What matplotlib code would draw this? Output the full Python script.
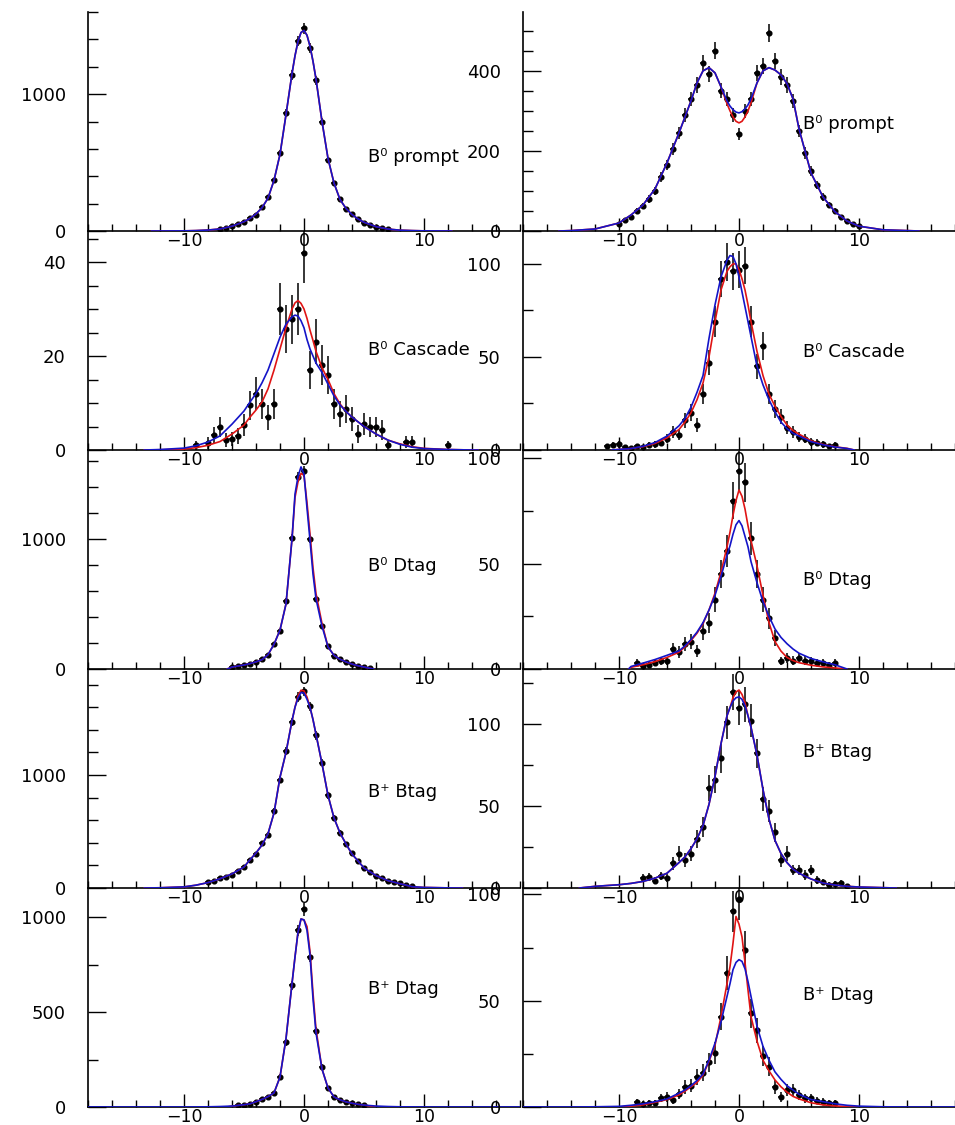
import numpy as np
import matplotlib.pyplot as plt
from matplotlib.ticker import MultipleLocator

# ======================
# Fit curves, tabulated on a common x grid (ps)
# ======================
CURVE_X = [-14, -12, -10, -9, -8, -7, -6, -5, -4.5, -4, -3.5, -3, -2.5, -2, -1.5, -1,
           -0.75, -0.5, -0.25, 0, 0.25, 0.5, 0.75, 1, 1.5, 2, 2.5, 3, 3.5, 4,
           4.5, 5, 6, 7, 8, 9, 10, 12, 14]
BIN_W = 0.5

# ----- B0 prompt (left) -----
b0_prompt_l_x0 = -7
b0_prompt_l_n = [14, 25, 36, 50, 66, 95, 120, 175, 245, 370, 570, 860, 1140, 1390, 1480,
                 1340, 1100, 800, 520, 350, 235, 160, 125, 85, 62, 45, 30, 20, 13]
b0_prompt_l_blue = [0, 0.3, 1, 3, 7, 15, 35, 68, 92, 125, 170, 240, 370, 560, 850, 1150, 1280,
                    1385, 1450, 1465, 1430, 1350, 1240, 1110, 800, 530, 350, 230, 165, 120,
                    88, 64, 32, 14, 6, 3, 1, 0.3, 0]
b0_prompt_l_red = b0_prompt_l_blue

# ----- B0 prompt (right) -----
b0_prompt_r_x0 = -10
b0_prompt_r_n = [18, 28, 35, 50, 62, 80, 100, 135, 165, 205, 245, 290, 330, 365, 420, 392,
                 450, 350, 330, 290, 242, 300, 330, 395, 412, 495, 425, 385, 365, 325, 250,
                 195, 150, 115, 85, 65, 50, 35, 25, 18, 12]
b0_prompt_r_blue = [1, 5, 20, 40, 65, 105, 170, 245, 285, 325, 370, 400, 408, 395, 360, 325,
                    312, 303, 297, 295, 298, 305, 315, 330, 370, 400, 408, 402, 390, 368,
                    330, 255, 145, 85, 48, 25, 12, 3, 1]
b0_prompt_r_red = [1, 5, 20, 40, 65, 105, 170, 245, 285, 325, 370, 400, 408, 395, 360, 318,
                   300, 285, 274, 270, 274, 285, 300, 320, 370, 400, 408, 402, 390, 368,
                   330, 255, 145, 85, 48, 25, 12, 3, 1]

# ----- B0 cascade (left) -----
b0_casc_l_x0 = -9
b0_casc_l_n = [1, 0, 1.5, 3.2, 4.9, 2.1, 2.3, 3, 5.3, 9.5, 12, 9.8, 7, 9.8, 30, 25.7, 27.8,
               30, 42, 17, 23, 18, 16, 9.8, 7.7, 8.7, 6.6, 3.4, 5.5, 4.9,
               4.9, 4.3, 1, 0, 0, 1.7, 1.7, 0, 0, 0, 0, 0, 1]
b0_casc_l_blue = [0, 0.1, 0.4, 0.9, 1.7, 3.0, 5.5, 8.3, 10.2, 12, 14.3, 17, 20.5, 24, 26.8,
                  28.3, 28.7, 28.5, 27.5, 26, 23.5, 21.5, 20, 18.5, 16.5, 14, 11.5, 9.6, 8.2,
                  7, 6, 5, 3.4, 2.1, 1.2, 0.6, 0.3, 0.1, 0]
b0_casc_l_red = [0, 0.05, 0.2, 0.5, 1.0, 1.8, 3.4, 5.3, 7, 8.5, 10.2, 13, 17, 21.5, 26, 30,
                 31.3, 31.8, 31.2, 30, 28, 25.5, 23.3, 21, 17.5, 15, 12, 9.8, 8.2, 7, 6, 5,
                 3.4, 2.1, 1.3, 0.7, 0.35, 0.1, 0]

# ----- B0 cascade (right) -----
b0_casc_r_x0 = -11
b0_casc_r_n = [2, 2.5, 3, 1.5, 1, 2, 1.5, 2.5, 3, 4, 6, 9.7, 8, 16, 20, 13.4, 30, 47, 69,
               92, 101, 96, 97, 99, 69, 45, 56, 30, 22, 18, 12, 9.7, 7, 6, 4.3, 4, 3, 2, 2.7]
b0_casc_r_blue = [0, 0, 0.3, 0.8, 2, 4, 7.5, 13, 17, 23, 31, 40, 60, 78, 93, 102, 104.5, 104,
                  100, 93, 85, 77, 69, 61, 45, 35, 27, 20.5, 15, 11.5, 9, 7.5, 4.5, 2.8, 1.6,
                  0.8, 0.4, 0, 0]
b0_casc_r_red = [0, 0, 0.3, 0.8, 1.8, 3.5, 6.5, 11, 15, 20, 27, 36, 50, 69, 86, 96, 98.5,
                 100, 100, 97, 92, 86, 78, 69, 53, 40, 30, 23.5, 18, 13.5, 10.5, 8.5, 5, 3,
                 1.7, 0.9, 0.4, 0, 0]

# ----- B0 Dtag (left) -----
b0_dtag_l_x0 = -6
b0_dtag_l_n = [14, 22, 30, 42, 55, 75, 105, 190, 290, 520, 1010, 1480, 1520, 1000, 540,
               330, 175, 100, 78, 52, 38, 25, 15, 10]
b0_dtag_l_blue = [0, 0, 0, 1, 3, 7, 15, 31, 42, 55, 72, 110, 190, 300, 500, 1000, 1346, 1480,
                  1555, 1500, 1238, 990, 730, 540, 330, 170, 105, 75, 55, 38, 25, 15, 6,
                  2, 1, 0, 0, 0, 0]
b0_dtag_l_red = [0, 0, 0, 1, 3, 7, 15, 31, 42, 55, 72, 110, 190, 300, 500, 1000, 1320, 1440,
                 1505, 1490, 1280, 1040, 780, 580, 350, 170, 105, 75, 55, 38, 25, 15, 6,
                 2, 1, 0, 0, 0, 0]

# ----- B0 Dtag (right) -----
b0_dtag_r_x0 = -8.5
b0_dtag_r_n = [2.9, 1.5, 2, 3, 3.8, 3.8, 9.5, 8, 11.9, 13, 8.6, 18, 22, 33, 45, 56, 80, 94,
               88.6, 62, 45, 33, 24, 14.8, 3.8, 5.2, 4, 5.2, 4, 3.8, 3, 2.9, 2, 2.9]
b0_dtag_r_blue = [0, 0, 0.5, 1.2, 2.8, 4.5, 6.5, 8.6, 11, 14, 17.5, 22, 28, 35, 44, 54, 58.5,
                  64, 68.5, 70.5, 68, 63, 58, 51, 41, 32, 25, 19, 15, 12, 9.5, 7.5, 5, 3.4,
                  2, 1, 0.5, 0, 0]
b0_dtag_r_red = [0, 0, 0.3, 0.8, 2, 3.5, 5.5, 8, 10.5, 13.5, 17, 21.5, 28, 36, 46, 58, 65,
                 73, 80, 85, 82, 76, 68, 61, 49, 35, 22, 13, 8.5, 5.5, 4, 3, 1.8, 1, 0.5,
                 0.2, 0.1, 0, 0]

# ----- B+ Btag (left) -----
bp_btag_l_x0 = -8
bp_btag_l_n = [50, 62, 85, 100, 118, 150, 190, 250, 300, 395, 470, 680, 960, 1210, 1470,
               1690, 1740, 1610, 1350, 1110, 820, 620, 490, 390, 310, 235, 180, 140, 110,
               85, 65, 50, 40, 25, 14]
bp_btag_l_blue = [0.5, 2, 10, 25, 48, 82, 125, 186, 250, 310, 380, 480, 664, 980, 1200, 1480,
                  1600, 1680, 1730, 1725, 1670, 1600, 1490, 1360, 1100, 820, 620, 487, 390,
                  300, 240, 177, 110, 65, 38, 12, 5, 1, 0]
bp_btag_l_red = [0.5, 2, 10, 25, 48, 82, 125, 186, 250, 310, 380, 480, 664, 980, 1200, 1480,
                 1600, 1700, 1750, 1745, 1690, 1600, 1490, 1360, 1100, 820, 620, 487, 390,
                 300, 240, 177, 110, 65, 38, 12, 5, 1, 0]

# ----- B+ Btag (right) -----
bp_btag_r_x0 = -8
bp_btag_r_n = [6, 6.7, 4.5, 7.3, 6, 15, 21, 17, 21, 30, 37, 61, 66, 79, 101, 119.5, 110,
               112, 102, 82, 54, 47, 34, 17, 21, 11, 11, 8, 11, 4.9, 3.5, 2, 2.5, 3, 1]
bp_btag_r_blue = [0.3, 1, 2, 2.8, 4, 6, 9, 15.5, 19, 24, 30, 38, 51, 68, 88, 105, 110, 114,
                  116, 116.5, 115, 111, 105, 98, 81, 60, 42, 29, 21, 15.5, 11.5, 9, 5.5, 3,
                  1.8, 1, 0.6, 0.2, 0]
bp_btag_r_red = [0.3, 1, 2, 2.8, 4, 6, 9, 15.5, 19, 24, 30, 38, 51, 68, 88, 105, 110, 116,
                 119.5, 120.7, 118, 113, 105, 98, 81, 60, 42, 29, 21, 15.5, 11.5, 9, 5.5, 3,
                 1.8, 1, 0.6, 0.2, 0]

# ----- B+ Dtag (left) -----
bp_dtag_l_x0 = -5.5
bp_dtag_l_n = [8, 12, 18, 27, 40, 55, 75, 160, 340, 640, 930, 1040, 790, 400, 210, 100,
               55, 38, 27, 20, 14, 10]
bp_dtag_l_blue = [0, 0, 0, 0.5, 1, 2.5, 5, 12, 17, 28, 40, 55, 74, 158, 360, 650, 790, 920,
                  990, 985, 930, 800, 570, 390, 200, 100, 53, 38, 27, 20, 14, 10, 5, 2.5, 1,
                  0.5, 0, 0, 0]
bp_dtag_l_red = [0, 0, 0, 0.5, 1, 2.5, 5, 12, 17, 28, 40, 55, 74, 158, 360, 650, 790, 920,
                 990, 985, 950, 820, 600, 410, 200, 100, 53, 38, 27, 20, 14, 10, 5, 2.5, 1,
                 0.5, 0, 0, 0]

# ----- B+ Dtag (right) -----
bp_dtag_r_x0 = -8.5
bp_dtag_r_n = [2.4, 1.5, 2, 2, 4.2, 4.7, 3.3, 6, 9.4, 10, 14, 16, 21, 25.5, 42.5, 63, 92,
               97.6, 74, 44, 36, 24, 19, 9.4, 4.7, 8, 8, 5.5, 4, 4.2, 3, 2.5, 2, 1.9]
bp_dtag_r_blue = [0, 0.1, 0.3, 0.8, 1.5, 2.5, 3.8, 6.5, 8, 10, 12.5, 15.5, 22, 30, 40, 52,
                  58, 64.6, 68, 69.3, 68.5, 65, 59, 52, 38, 28.5, 22, 16.5, 13, 10, 8, 6,
                  3.5, 2.5, 1.5, 0.8, 0.4, 0.1, 0]
bp_dtag_r_red = [0, 0, 0.1, 0.4, 1, 2.2, 3.5, 5.7, 7.5, 9.5, 11.5, 15, 21.5, 29, 42.5, 58,
                 66, 77, 89.6, 86, 80, 68, 55, 42.5, 31, 22, 17, 12.7, 9.5, 7, 5, 3.8, 2,
                 1, 0.5, 0.2, 0.1, 0, 0]

labels = ["B⁰ prompt", "B⁰ prompt", "B⁰ Cascade", "B⁰ Cascade", "B⁰ Dtag", "B⁰ Dtag",
          "B⁺ Btag", "B⁺ Btag", "B⁺ Dtag", "B⁺ Dtag"]

# ======================
# Per-panel settings: data, fits, fit ranges, axis scales, label height
# ======================
panels = [
    dict(x0=b0_prompt_l_x0, n=b0_prompt_l_n, blue=b0_prompt_l_blue, red=b0_prompt_l_red,
         brange=(-12.7, 12.3), rrange=(-12.7, 12.3), ymax=1600, major=1000, minor=200, ly=0.34),
    dict(x0=b0_prompt_r_x0, n=b0_prompt_r_n, blue=b0_prompt_r_blue, red=b0_prompt_r_red,
         brange=(-15, 15), rrange=(-15, 15), ymax=547, major=200, minor=50, ly=0.49),
    dict(x0=b0_casc_l_x0, n=b0_casc_l_n, blue=b0_casc_l_blue, red=b0_casc_l_red,
         brange=(-13.3, 14.5), rrange=(-13.3, 14.5), ymax=46.6, major=20, minor=5, ly=0.457),
    dict(x0=b0_casc_r_x0, n=b0_casc_r_n, blue=b0_casc_r_blue, red=b0_casc_r_red,
         brange=(-10.6, 9.6), rrange=(-10.6, 9.6), ymax=117.7, major=50, minor=25, ly=0.447),
    dict(x0=b0_dtag_l_x0, n=b0_dtag_l_n, blue=b0_dtag_l_blue, red=b0_dtag_l_red,
         brange=(-6.4, 5.8), rrange=(-6.4, 5.8), ymax=1685, major=1000, minor=200, ly=0.47),
    dict(x0=b0_dtag_r_x0, n=b0_dtag_r_n, blue=b0_dtag_r_blue, red=b0_dtag_r_red,
         brange=(-9.2, 9.0), rrange=(-9.2, 9.0), ymax=104, major=50, minor=25, ly=0.406),
    dict(x0=bp_btag_l_x0, n=bp_btag_l_n, blue=bp_btag_l_blue, red=bp_btag_l_red,
         brange=(-13.3, 13.2), rrange=(-13.3, 13.2), ymax=1938, major=1000, minor=200, ly=0.438),
    dict(x0=bp_btag_r_x0, n=bp_btag_r_n, blue=bp_btag_r_blue, red=bp_btag_r_red,
         brange=(-13.3, 13.1), rrange=(-13.3, 13.1), ymax=133.5, major=50, minor=25, ly=0.62),
    dict(x0=bp_dtag_l_x0, n=bp_dtag_l_n, blue=bp_dtag_l_blue, red=bp_dtag_l_red,
         brange=(-18, 18), rrange=(-6.4, 6.0), ymax=1153, major=500, minor=250, ly=0.54),
    dict(x0=bp_dtag_r_x0, n=bp_dtag_r_n, blue=bp_dtag_r_blue, red=bp_dtag_r_red,
         brange=(-18, 18), rrange=(-10, 10), ymax=103, major=50, minor=25, ly=0.51),
]

BLUE = '#1414c8'
RED = '#e01414'


def draw_fit(ax, vals, lo, hi, color):
    cx = np.array(CURVE_X, dtype=float)
    cy = np.array(vals, dtype=float)
    keep = (cx > lo) & (cx < hi)
    x = np.concatenate([[lo], cx[keep], [hi]])
    y = np.concatenate([[0.0], cy[keep], [0.0]])
    ax.plot(x, y, color=color, lw=1.2, zorder=3)


def draw_data(ax, x0, counts):
    n = np.asarray(counts, dtype=float)
    x = x0 + BIN_W * np.arange(n.size)
    keep = n > 0
    ax.errorbar(x[keep], n[keep], yerr=np.sqrt(n[keep]), xerr=BIN_W / 2,
                fmt='o', ms=3.4, color='black', ecolor='black',
                elinewidth=1.1, capsize=0, zorder=2)


# ======================
# Figure
# ======================
W, H = 955, 1125
fig = plt.figure(figsize=(W / 100, H / 100), dpi=100)

for i, p in enumerate(panels):
    row, col = divmod(i, 2)
    left = 88 if col == 0 else 523
    top = 12 + 219 * row
    ax = fig.add_axes([left / W, 1 - (top + 219) / H, 432 / W, 219 / H])
    ax.patch.set_visible(False)

    draw_data(ax, p['x0'], p['n'])
    draw_fit(ax, p['red'], *p['rrange'], RED)
    draw_fit(ax, p['blue'], *p['brange'], BLUE)

    ax.set_xlim(-18, 18)
    ax.set_ylim(0, p['ymax'])
    for s in ('top', 'right'):
        ax.spines[s].set_visible(False)
    ax.spines['left'].set_linewidth(1.2)
    ax.spines['bottom'].set_linewidth(1.2)

    ax.xaxis.set_major_locator(MultipleLocator(10))
    ax.xaxis.set_minor_locator(MultipleLocator(2))
    ax.yaxis.set_major_locator(MultipleLocator(p['major']))
    ax.yaxis.set_minor_locator(MultipleLocator(p['minor']))
    ax.tick_params(axis='x', which='major', direction='in', length=9.5, width=1,
                   pad=0.5, labelsize=12.5)
    ax.tick_params(axis='x', which='minor', direction='in', length=5, width=1)
    ax.tick_params(axis='y', which='major', direction='in', length=13, width=1,
                   pad=16, labelsize=13)
    ax.tick_params(axis='y', which='minor', direction='in', length=7.5, width=1)

    ax.text(0.648, p['ly'], labels[i], transform=ax.transAxes, fontsize=13,
            ha='left', va='center')

fig.savefig('out.png', dpi=100)
